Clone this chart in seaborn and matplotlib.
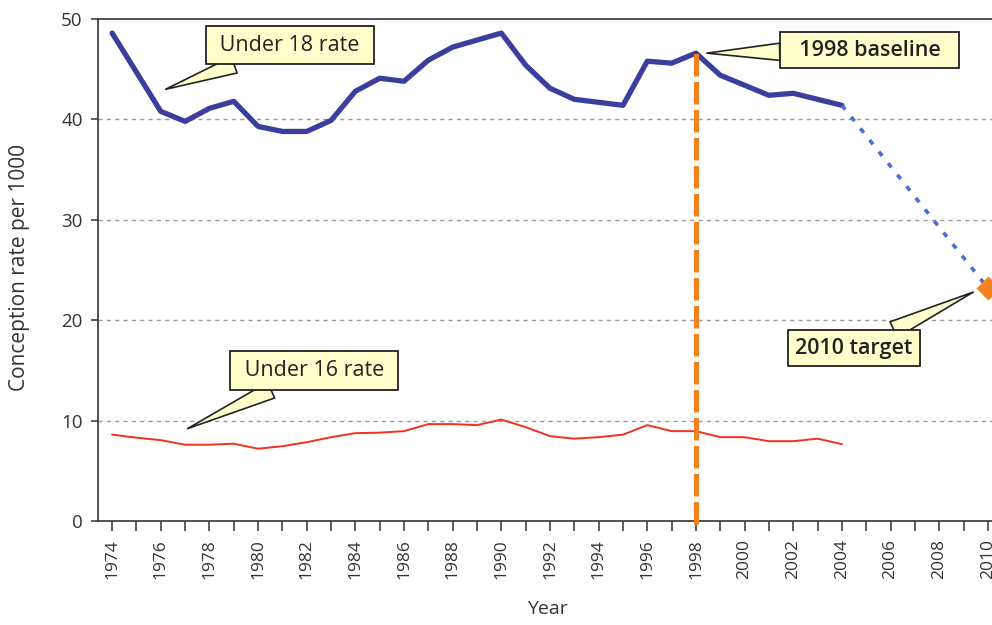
import numpy as np
import pandas as pd
import matplotlib
matplotlib.use("Agg")
import matplotlib.pyplot as plt
import seaborn as sns

# values
years = list(range(1974, 2005))
under18 = [48.6, 44.7, 40.8, 39.8, 41.1, 41.8, 39.3, 38.8, 38.8, 39.9,
           42.8, 44.1, 43.8, 45.9, 47.2, 47.9, 48.6, 45.4, 43.1, 42.0,
           41.7, 41.4, 45.8, 45.6, 46.6, 44.4, 43.4, 42.4, 42.6, 42.0, 41.4]
under16 = [8.6, 8.3, 8.05, 7.6, 7.6, 7.7, 7.2, 7.45, 7.85, 8.35,
           8.75, 8.8, 8.95, 9.65, 9.65, 9.55, 10.1, 9.35, 8.45, 8.2,
           8.35, 8.6, 9.55, 8.95, 8.95, 8.35, 8.35, 7.95, 7.95, 8.2, 7.65]
proj_years = [2004, 2010]
proj_values = [41.4, 23.2]
baseline_year = 1998
baseline_value = 46.6
target_year = 2010
target_value = 23.2
y_ticks = [0, 10, 20, 30, 40, 50]

BLUE = "#3A3F9E"
PROJ_BLUE = "#4A6FD0"
RED = "#F2311F"
ORANGE = "#F5821F"
NOTE_FILL = "#FFFFCC"
INK = "#333333"

sns.set_style("ticks")
plt.rcParams['font.family'] = ['Open Sans', 'DejaVu Sans']

fig = plt.figure(figsize=(9.92, 6.25), dpi=100)
ax = fig.add_axes([0.0988, 0.1664, 0.9012, 0.8032])

# grid first so lines sit on top
for v in y_ticks[1:-1]:
    ax.axhline(v, color="#9A9A9A", lw=1.0, ls=(0, (3, 3)), zorder=1)

df18 = pd.DataFrame({"Year": years, "Rate": under18})
df16 = pd.DataFrame({"Year": years, "Rate": under16})
dfp = pd.DataFrame({"Year": proj_years, "Rate": proj_values})

sns.lineplot(data=df18, x="Year", y="Rate", color=BLUE, lw=3.8, ax=ax,
             solid_joinstyle="round", zorder=4)
sns.lineplot(data=df16, x="Year", y="Rate", color=RED, lw=1.4, ax=ax, zorder=4)
sns.lineplot(data=dfp, x="Year", y="Rate", color=PROJ_BLUE, lw=2.6, ax=ax,
             ls=(0, (1.5, 2.6)), zorder=4)

ax.vlines(baseline_year, -0.3, baseline_value, color=ORANGE, lw=3.6,
          linestyles=[(0, (4.5, 1.1))], zorder=5, clip_on=False)
ax.scatter([target_year], [target_value], marker="D", s=150, color=ORANGE,
           zorder=6, linewidths=0)

ax.set_xlim(1973.42, 2010.17)
ax.set_ylim(0, 50)
ax.set_yticks(y_ticks)
ax.set_xticks(range(1974, 2011, 2))
ax.set_xticks(range(1975, 2011, 2), minor=True)
ax.tick_params(axis="x", which="both", length=7, width=1.1, color=INK,
               labelsize=12.5, labelcolor=INK, labelrotation=90, pad=6)
ax.tick_params(axis="y", length=5, width=1.1, color=INK, labelsize=13.5,
               labelcolor=INK, pad=6)

for side in ["left", "bottom", "top"]:
    ax.spines[side].set_color(INK)
    ax.spines[side].set_linewidth(1.2)
ax.spines["right"].set_visible(False)

ax.set_xlabel("Year", fontsize=14, color=INK)
ax.set_ylabel("Conception rate per 1000", fontsize=15, color=INK)
ax.xaxis.set_label_coords(0.503, -0.158)
ax.yaxis.set_label_coords(-0.076, 0.504)


def callout(text, tip, box, weight="normal", pad=0.35):
    ax.annotate(text, xy=tip, xytext=box, ha="center", va="center",
                fontsize=15.5, color="#222222", fontweight=weight, zorder=8,
                bbox=dict(boxstyle=f"square,pad={pad}", fc=NOTE_FILL,
                          ec="#222222", lw=1.3),
                arrowprops=dict(arrowstyle="wedge,tail_width=0.8",
                                fc=NOTE_FILL, ec="#222222", lw=1.2,
                                shrinkA=0, shrinkB=0))


callout(" Under 18 rate ", (1976.2, 43.0), (1981.3, 47.4), pad=0.4)
callout(" Under 16 rate ", (1977.1, 9.2), (1982.3, 15.0), pad=0.4)
callout("  1998 baseline  ", (1998.45, 46.6), (2005.15, 46.9), weight="semibold")
callout("2010 target", (2009.4, 22.8), (2004.5, 17.2), weight="semibold")

fig.savefig("out.png", dpi=100)
